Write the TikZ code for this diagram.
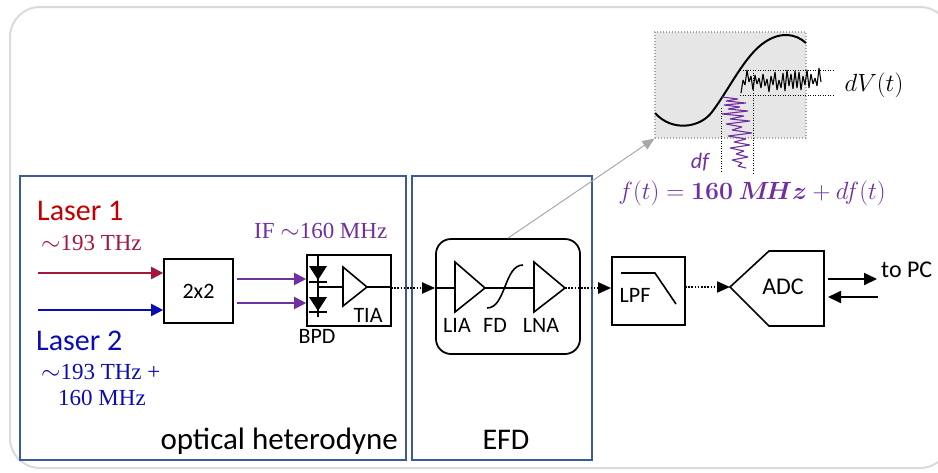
\documentclass[tikz,border=0pt]{standalone}
\usepackage{fontspec}
\usepackage{bm}
\setmainfont{Carlito}
\newfontfamily\serifm{Liberation Serif}
\usetikzlibrary{arrows.meta,calc}
\definecolor{lredA}{HTML}{C00000}
\definecolor{lredB}{HTML}{A3173A}
\definecolor{lblue}{HTML}{0C0CB4}
\definecolor{lpurp}{HTML}{7030A0}
\definecolor{grpblue}{HTML}{3C5A9A}
\definecolor{framegray}{HTML}{DADADA}
\definecolor{insetfill}{HTML}{E6E6E6}
\definecolor{ptrgray}{HTML}{A8A8A8}
\tikzset{
  lbl/.style={inner sep=0pt, font=\fontsize{22}{26}\selectfont},
  bigl/.style={inner sep=0pt, font=\fontsize{30}{36}\selectfont},
  sertxt/.style={inner sep=0pt, font=\serifm\fontsize{23}{27}\selectfont},
  blk/.style={draw, line width=1.6pt, inner sep=0pt},
  grp/.style={draw=grpblue, line width=1.8pt, inner sep=0pt},
  carrow/.style={line width=2pt, -{Triangle[length=12pt,width=12pt]}},
  dotarrow/.style={line width=2pt, dash pattern=on 1.6pt off 1.6pt, -{Triangle[length=13pt,width=11pt]}},
  thin line/.style={line width=1.6pt},
  guide/.style={line width=0.8pt, dash pattern=on 1pt off 1.5pt},
}
\begin{document}
\begin{tikzpicture}[x=1pt,y=-1pt]
\useasboundingbox (0,0) rectangle (938,472);
\clip (0,0) rectangle (938,472);
% outer frame
\draw[framegray, line width=2pt, rounded corners=30pt] (10,7) rectangle (950,468);

% group boxes
\node[grp, minimum width=386pt, minimum height=284pt] (opt) at (213,318) {};
\node[grp, minimum width=180pt, minimum height=284pt] (efd) at (502,318) {};
\node[bigl, font=\fontsize{31}{36}\selectfont, anchor=base east] (optlbl) at (398,449) {optical heterodyne};
\node[bigl, anchor=base] (efdlbl) at (506,449) {EFD};

% laser labels
\node[bigl, text depth=0pt, anchor=base west, text=lredA] (l1) at (37,220) {Laser 1};
\node[sertxt, anchor=base west, text=lredB] (l1f) at (41,250) {$\sim$193 THz};
\node[bigl, text depth=0pt, anchor=base west, text=lblue] (l2) at (36,350) {Laser 2};
\node[sertxt, text height=15pt, text depth=0pt, anchor=base west, text=lblue] (l2f) at (41,379) {$\sim$193 THz +};
\node[sertxt, anchor=base west, text=lblue] (l2g) at (58,405) {160 MHz};

% 2x2 coupler
\node[blk, minimum width=69pt, minimum height=64pt] (cpl) at (198.5,291) {};
\node[lbl] (cpltxt) at (198.5,291) {2x2};
\coordinate (s1) at (38,273);
\coordinate (s2) at (38,310);
\draw[carrow, lredB] (s1) -- (s1 -| cpl.west);
\draw[carrow, lblue] (s2) -- (s2 -| cpl.west);

% BPD + TIA
\node[blk, minimum width=84pt, minimum height=71pt] (bpd) at (349,290.5) {};
\coordinate (p1) at (237,279);
\coordinate (p2) at (237,303);
\draw[carrow, lpurp] (p1) -- (p1 -| bpd.west);
\draw[carrow, lpurp] (p2) -- (p2 -| bpd.west);
\node[sertxt, anchor=base west, text=lpurp] (iflbl) at (254,238) {IF $\sim$160 MHz};
\draw[thin line] (318,255) -- (318,317);
\fill (309,266) -- (327,266) -- (318,280) -- cycle;
\draw[thin line] (309,282) -- (327,282);
\fill (309,297) -- (327,297) -- (318,311) -- cycle;
\draw[thin line] (309,312) -- (327,312);
\draw[thin line] (318,287) -- (343,287);
\draw[thin line] (343,267) -- (343,306) -- (367,287) -- cycle;
\draw[thin line] (367,287) -- (391,287);
\node[lbl, anchor=base] (tia) at (368,322) {TIA};
\node[lbl, anchor=base] (bpdlbl) at (317,343) {BPD};

% EFD block
\node[draw, line width=1.8pt, rounded corners=15pt, minimum width=144pt, minimum height=115pt, inner sep=0pt] (efdbox) at (508,296.5) {};
\coordinate (o1) at (391,288);
\draw[dotarrow] (o1) -- (o1 -| efdbox.west);
\draw[thin line] (436,288) -- (455,288);
\draw[thin line] (455,262) -- (455,312) -- (485,288) -- cycle;
\draw[thin line] (485,288) -- (534,288);
\draw[thin line] (487,308) .. controls (506,308) and (504,265) .. (523,265);
\draw[thin line] (534,262) -- (534,312) -- (565,288) -- cycle;
\node[lbl, anchor=base] (lia) at (457,332) {LIA};
\node[lbl, anchor=base] (fd) at (495,332) {FD};
\node[lbl, anchor=base] (lna) at (541,332) {LNA};

% LPF
\node[blk, minimum width=73pt, minimum height=68pt] (lpf) at (648.5,291) {};
\coordinate (o2) at (565,288);
\draw[dotarrow] (o2) -- (o2 -| lpf.west);
\draw[thin line] (621,273) -- (655,273) -- (676,304);
\node[lbl, anchor=base] (lpftxt) at (635,302) {LPF};

% ADC
\coordinate (adcin) at (730,287);
\draw[thin line] (adcin) -- (769,251) -- (824,251) -- (824,326) -- (769,326) -- cycle;
\node[inner sep=0pt, font=\fontsize{24}{28}\selectfont] (adc) at (783,287) {ADC};
\coordinate (o3) at (685,287);
\draw[dotarrow] (o3) -- (adcin);
\coordinate (pcA) at (828,279);
\coordinate (pcB) at (877,279);
\coordinate (pcC) at (878,297);
\coordinate (pcD) at (828,297);
\draw[line width=1.8pt, -{Triangle[length=13pt,width=12pt]}] (pcA) -- (pcB);
\draw[line width=1.8pt, -{Triangle[length=13pt,width=12pt]}] (pcC) -- (pcD);
\node[inner sep=0pt, font=\fontsize{24}{28}\selectfont, anchor=base west] (pc) at (881,277) {to PC};

% inset
\node[draw=ptrgray, fill=insetfill, line width=1.2pt, dash pattern=on 1.2pt off 1.8pt, minimum width=151pt, minimum height=106pt, inner sep=0pt] (inset) at (730.5,85) {};
\draw[ptrgray, line width=1pt, -{Triangle[length=12pt,width=10pt]}] (efdbox.north) -- (inset.south west);
\draw[line width=2pt] (655,113) .. controls (672,132) and (700,128) .. (712,112)
  .. controls (730,88) and (745,55) .. (765,42)
  .. controls (780,32) and (795,33) .. (806,43);
\draw[guide] (740,70) -- (835,70);
\draw[guide] (740,95) -- (835,95);
\draw[guide] (721,108) -- (721,173);
\draw[guide] (753,70) -- (753,173);
\draw[line width=1.1pt, line join=bevel] (741,93) -- (743,80) -- (745,85) -- (747,70) -- (749,82) -- (751,76) -- (753,90) -- (755,75) -- (757,84) -- (759,78) -- (761,88) -- (763,74) -- (765,86) -- (767,79) -- (769,92) -- (771,76) -- (773,85) -- (775,72) -- (777,90) -- (779,80) -- (781,88) -- (783,73) -- (785,91) -- (787,70) -- (789,86) -- (791,74) -- (793,89) -- (795,71) -- (797,88) -- (799,72) -- (801,90) -- (803,76) -- (805,85) -- (807,70) -- (809,88) -- (811,74) -- (813,84) -- (815,78) -- (817,86) -- (819,68) -- (821,82);
\draw[lpurp, line width=1.1pt, line join=bevel] (722,97) -- (738,99) -- (726,101) -- (746,103) -- (724,105) -- (740,107) -- (728,109) -- (748,111) -- (722,114) -- (744,116) -- (730,119) -- (750,121) -- (726,124) -- (742,127) -- (732,130) -- (752,133) -- (728,136) -- (746,139) -- (734,142) -- (750,145) -- (730,148) -- (744,151) -- (736,154) -- (748,157) -- (732,160) -- (742,163) -- (738,166) -- (746,168);
\node[inner sep=0pt, font=\fontsize{24}{28}\selectfont] (dv) at (874,85) {$dV(t)$};
\node[inner sep=0pt, text=lpurp, font=\itshape\fontsize{22}{26}\selectfont] (df) at (700,162) {df};
\node[inner sep=0pt, text=lpurp, font=\fontsize{24}{28}\selectfont] (eq) at (752,193) {$f(t) = \bm{160\ M\!Hz} + df(t)$};
\end{tikzpicture}
\end{document}
